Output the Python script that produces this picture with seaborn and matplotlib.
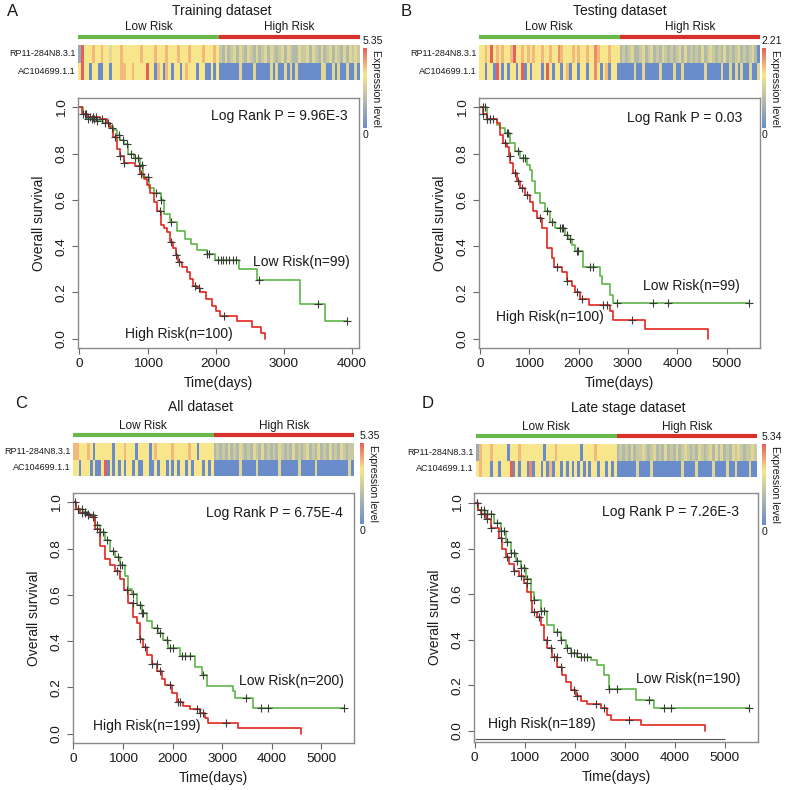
import numpy as np
import matplotlib
matplotlib.use('Agg')
import matplotlib.pyplot as plt
import seaborn as sns
from matplotlib.colors import LinearSegmentedColormap

sns.set_style('ticks')
plt.rcParams['font.family'] = ['Liberation Sans', 'DejaVu Sans']

W, H = 787, 790

# --- DATA ---
GENES = ['RP11-284N8.3.1', 'AC104699.1.1']
TITLES = ['Training dataset', 'Testing dataset', 'All dataset', 'Late stage dataset']
LETTERS = ['A', 'B', 'C', 'D']
PVALS = ['9.96E-3', '0.03', '6.75E-4', '7.26E-3']
N_LOW = [99, 99, 200, 190]
N_HIGH = [100, 100, 199, 189]
EXPR_MAX = [5.35, 2.21, 5.35, 5.34]
XTICK_MAX = [4000, 5000, 5000, 5000]

# expression heatmap, one digit per column (0 = low ... 9 = high), read by eye
A_RP11_LOW = "2966676676" "6566676666" "6676666766" "6766676667" "6666766676"
A_RP11_HIGH = "4353453543" "5435345354" "3453543354" "4535435345" "3543535454"
A_AC_LOW = "6966066006" "6066677667" "6666966076" "0760660676" "6606600606"
A_AC_HIGH = "0000000500" "0050000050" "5005050500" "0000005500" "5050050050"

B_RP11_LOW = "6676967676" "6796676767" "6676676687" "6667676676" "6876667666"
B_RP11_HIGH = "3434533453" "4534354343" "4535343435" "3454343534" "3453434530"
B_AC_LOW = "6606609606" "0660690606" "6606960660" "6706606606" "6860670660"
B_AC_HIGH = "0000050050" "0000500005" "0050000000" "5000005005" "0505005005"

C_RP11_LOW = "7766676066" "6666066676" "6606666067" "6666676666" "6766066666"
C_RP11_HIGH = "3434353435" "4343543534" "3435434353" "4345343534" "3534354344"
C_AC_LOW = "6606660600" "6906060606" "6060066006" "0660606066" "0606660606"
C_AC_HIGH = "0000000005" "0000050000" "0005000000" "5000005000" "0000000050"

D_RP11_LOW = "2766676666" "6066676666" "6666066676" "6666666066" "6676666666"
D_RP11_HIGH = "3434353445" "4345343534" "3534543435" "4345353534" "3545434454"
D_AC_LOW = "6766606606" "6690606608" "0660607066" "0606060606" "0660660606"
D_AC_HIGH = "0000000500" "0050000000" "0005000050" "0000500005" "0050000500"

# Kaplan-Meier step points (days, survival) and censored times
A_HIGH_T = [0, 40, 120, 300, 400, 450, 500, 550, 600, 650, 820, 890, 950, 990, 1040, 1090, 1140, 1190, 1240, 1285,
            1330, 1380, 1420, 1450, 1500, 1575, 1620, 1670, 1720, 1770, 1850, 1940, 2000, 2060, 2315, 2525, 2670, 2720]
A_HIGH_S = [1.0, 0.97, 0.96, 0.95, 0.93, 0.91, 0.87, 0.82, 0.79, 0.76, 0.745, 0.71, 0.69, 0.665, 0.63, 0.59, 0.55, 0.49, 0.48, 0.46,
            0.42, 0.39, 0.36, 0.33, 0.31, 0.29, 0.26, 0.23, 0.22, 0.20, 0.17, 0.14, 0.12, 0.10, 0.075, 0.05, 0.025, 0.0]
A_HIGH_C = [60, 100, 150, 200, 250, 330, 480, 520, 600, 650, 870, 900, 1180, 1340, 1420, 1460, 1700, 1750, 2120]
A_LOW_T = [0, 50, 100, 250, 350, 450, 500, 550, 600, 650, 720, 800, 890, 940, 1015, 1090, 1190, 1235, 1330, 1430,
           1550, 1640, 1720, 1870, 1990, 2340, 2610, 3235, 3600]
A_LOW_S = [1.0, 0.97, 0.95, 0.94, 0.93, 0.92, 0.90, 0.88, 0.86, 0.84, 0.80, 0.78, 0.75, 0.70, 0.65, 0.63, 0.60, 0.54, 0.505, 0.465,
           0.43, 0.41, 0.385, 0.365, 0.34, 0.30, 0.255, 0.15, 0.075]
A_LOW_C = [80, 130, 180, 220, 260, 380, 420, 580, 640, 700, 760, 820, 860, 920, 1000, 1130, 1200, 1340, 1870, 1900,
           2030, 2070, 2110, 2150, 2200, 2250, 2300, 2640, 3500, 3930]

B_HIGH_T = [0, 60, 135, 340, 405, 475, 540, 580, 610, 675, 745, 810, 910, 1010, 1080, 1150, 1250, 1350, 1450, 1500,
            1660, 1755, 1860, 1930, 2030, 2200, 2635, 2700, 3345, 4630]
B_HIGH_S = [1.0, 0.97, 0.95, 0.93, 0.88, 0.845, 0.83, 0.79, 0.76, 0.715, 0.68, 0.65, 0.62, 0.59, 0.55, 0.52, 0.48, 0.39, 0.35, 0.31,
            0.29, 0.25, 0.23, 0.20, 0.17, 0.145, 0.12, 0.083, 0.04, 0.0]
B_HIGH_C = [68, 135, 203, 270, 507, 608, 709, 777, 845, 946, 1216, 1554, 1757, 1959, 2061, 2500, 2581, 3074]
B_LOW_T = [0, 135, 340, 405, 510, 610, 710, 810, 945, 1010, 1045, 1115, 1215, 1320, 1420, 1520, 1725, 1790, 1860, 1925,
           2095, 2430, 2465, 2635, 2690]
B_LOW_S = [1.0, 0.95, 0.925, 0.91, 0.89, 0.845, 0.81, 0.78, 0.75, 0.73, 0.68, 0.63, 0.585, 0.55, 0.505, 0.48, 0.45, 0.43, 0.405, 0.38,
           0.31, 0.27, 0.235, 0.19, 0.155]
B_LOW_C = [60, 100, 140, 200, 540, 574, 777, 878, 912, 1351, 1453, 1622, 1655, 1689, 1757, 1824, 1959, 1993, 2230, 2297,
           2770, 3514, 3818, 5453]

C_HIGH_T = [0, 60, 135, 270, 335, 435, 535, 640, 740, 840, 940, 1020, 1105, 1210, 1275, 1340, 1410, 1475, 1575, 1680,
            1780, 1845, 1980, 2080, 2215, 2350, 2550, 2650, 2720, 3320, 4600]
C_HIGH_S = [1.0, 0.97, 0.955, 0.95, 0.935, 0.885, 0.81, 0.755, 0.73, 0.705, 0.67, 0.62, 0.565, 0.505, 0.477, 0.41, 0.375, 0.34, 0.30, 0.27,
            0.235, 0.21, 0.175, 0.135, 0.12, 0.105, 0.09, 0.07, 0.047, 0.026, 0.0]
C_HIGH_C = [100, 168, 235, 302, 403, 470, 872, 1074, 1208, 1342, 1443, 1577, 1678, 1745, 1946, 2114, 2148, 2483, 2550, 2617, 3087]
C_LOW_T = [0, 60, 200, 300, 435, 535, 640, 740, 840, 940, 1040, 1105, 1175, 1275, 1375, 1475, 1575, 1710, 1810, 1910,
           2150, 2450, 2585, 2685, 3220, 3260, 3625]
C_LOW_S = [1.0, 0.97, 0.96, 0.945, 0.90, 0.87, 0.835, 0.79, 0.765, 0.73, 0.68, 0.625, 0.605, 0.555, 0.52, 0.485, 0.455, 0.435, 0.405, 0.37,
           0.335, 0.29, 0.255, 0.205, 0.185, 0.155, 0.11]
C_LOW_C = [34, 100, 168, 235, 302, 403, 470, 537, 604, 671, 805, 906, 940, 973, 1208, 1342, 1376, 1409, 1678, 1745,
           1879, 1946, 2013, 2181, 2248, 2349, 2617, 3490, 3792, 3926, 5456]

D_HIGH_T = [0, 60, 120, 220, 320, 485, 555, 620, 685, 785, 885, 985, 1055, 1120, 1155, 1255, 1320, 1385, 1455, 1555, 1655,
            1755, 1820, 1920, 2020, 2120, 2255, 2520, 2655, 2720, 3320, 4600]
D_HIGH_S = [1.0, 0.97, 0.95, 0.93, 0.89, 0.846, 0.80, 0.765, 0.73, 0.70, 0.68, 0.65, 0.61, 0.57, 0.52, 0.50, 0.465, 0.40, 0.365, 0.325, 0.28,
            0.245, 0.215, 0.18, 0.15, 0.13, 0.115, 0.10, 0.07, 0.048, 0.023, 0.0]
D_HIGH_C = [53, 120, 187, 253, 320, 520, 653, 787, 920, 1053, 1187, 1287, 1453, 1520, 1587, 1653, 1720, 1987, 2053, 2420, 2587, 3087]
D_LOW_T = [0, 60, 200, 385, 520, 620, 720, 820, 920, 1020, 1120, 1185, 1320, 1455, 1585, 1720, 1820, 1920, 2055, 2320,
           2450, 2590, 2685, 3220, 3590]
D_LOW_S = [1.0, 0.97, 0.95, 0.91, 0.875, 0.83, 0.78, 0.745, 0.715, 0.665, 0.61, 0.575, 0.525, 0.465, 0.435, 0.40, 0.365, 0.34, 0.325, 0.31,
           0.29, 0.245, 0.185, 0.135, 0.10]
D_LOW_C = [53, 120, 187, 253, 320, 453, 520, 587, 653, 720, 787, 853, 920, 987, 1053, 1187, 1320, 1387, 1653, 1720,
           1853, 1920, 1987, 2053, 2120, 2187, 2253, 2687, 2853, 3487, 3787, 3920, 5487]

# --- LAYOUT (pixel boxes: left, top, right, bottom) ---
KM_BOX = [(78, 98, 359, 348), (479, 98, 760, 348), (73, 493, 354, 743), (474, 493, 758, 742)]
HM_BOX = [(78, 45, 360, 80), (479, 45, 760, 80), (73, 443, 354, 476), (476, 444, 757, 477)]
CB_BOX = [(363, 48, 367, 128), (762, 48, 766, 128), (360, 443, 364, 524), (762, 444, 766, 525)]
XLIM = [(-20, 4100), (-20, 5675), (-10, 5660), (-10, 5670)]
YLIM = [(-0.04, 1.04), (-0.04, 1.04), (-0.04, 1.04), (-0.05, 1.044)]
TITLE_POS = [(222, 11), (620, 11), (200, 407), (628, 408)]
LETTER_POS = [(13, 11), (406, 11), (21, 403), (428, 404)]
PVAL_POS = [(0.96, 0.928), (0.936, 0.92), (0.961, 0.92), (0.933, 0.924)]
LOWTXT_POS = [(0.968, 0.344), (0.929, 0.248), (0.964, 0.248), (0.937, 0.253)]
HIGHTXT_POS = [(0.55, 0.056), (0.445, 0.124), (0.452, 0.068), (0.43, 0.072)]

GREEN, RED = '#5db548', '#e3261d'
BAR_GREEN, BAR_RED = '#6ab84a', '#d8302b'
TXT = '#1a1a1a'
cmap = LinearSegmentedColormap.from_list(
    'expr', [(0.0, '#6a8ccb'), (0.67, '#f8e68b'), (1.0, '#e3605c')])


def px(box):
    x0, y0, x1, y1 = box
    return [x0 / W, 1 - y1 / H, (x1 - x0) / W, (y1 - y0) / H]


def build_heat(low1, high1, low2, high2):
    r1 = [int(c) for c in low1 + high1]
    r2 = [int(c) for c in low2 + high2]
    n = min(len(r1), len(r2))
    return np.array([r1[:n], r2[:n]], dtype=float), len(low1)


def draw_km(ax, t, s, cens, color):
    t = np.array(t, float)
    s = np.array(s, float)
    c = np.array(cens, float)
    end = max(t[-1], c.max())
    tx = np.append(t, end)
    sy = np.append(s, s[-1])
    sns.lineplot(x=tx, y=sy, drawstyle='steps-post', color=color, linewidth=1.2,
                 ax=ax, estimator=None, sort=False)
    cy = s[np.searchsorted(t, c, side='right') - 1]
    sns.scatterplot(x=c, y=cy, marker='+', color='#3a3a3a', s=26, linewidth=0.8,
                    ax=ax, zorder=3)


heats = [
    build_heat(A_RP11_LOW, A_RP11_HIGH, A_AC_LOW, A_AC_HIGH),
    build_heat(B_RP11_LOW, B_RP11_HIGH, B_AC_LOW, B_AC_HIGH),
    build_heat(C_RP11_LOW, C_RP11_HIGH, C_AC_LOW, C_AC_HIGH),
    build_heat(D_RP11_LOW, D_RP11_HIGH, D_AC_LOW, D_AC_HIGH),
]
curves = [
    (A_LOW_T, A_LOW_S, A_LOW_C, A_HIGH_T, A_HIGH_S, A_HIGH_C),
    (B_LOW_T, B_LOW_S, B_LOW_C, B_HIGH_T, B_HIGH_S, B_HIGH_C),
    (C_LOW_T, C_LOW_S, C_LOW_C, C_HIGH_T, C_HIGH_S, C_HIGH_C),
    (D_LOW_T, D_LOW_S, D_LOW_C, D_HIGH_T, D_HIGH_S, D_HIGH_C),
]

fig = plt.figure(figsize=(W / 100, H / 100), dpi=100)

for i in range(4):
    # heatmap strip
    hax = fig.add_axes(px(HM_BOX[i]))
    cax = fig.add_axes(px(CB_BOX[i]))
    mat, n_low_cols = heats[i]
    ncol = mat.shape[1]
    sns.heatmap(mat / 9 * EXPR_MAX[i], ax=hax, cmap=cmap, vmin=0, vmax=EXPR_MAX[i],
                cbar_ax=cax, xticklabels=False, yticklabels=GENES)
    hax.tick_params(axis='y', length=0, pad=2, labelsize=6.5, labelrotation=0,
                    labelcolor=TXT)
    hax.tick_params(axis='x', length=0)
    hax.plot([0, n_low_cols], [-0.46, -0.46], color=BAR_GREEN, lw=3,
             clip_on=False, solid_capstyle='butt')
    hax.plot([n_low_cols, ncol], [-0.46, -0.46], color=BAR_RED, lw=3,
             clip_on=False, solid_capstyle='butt')
    hax.text(n_low_cols / 2, -1.05, 'Low Risk', ha='center', va='center',
             fontsize=8.5, color=TXT)
    hax.text((n_low_cols + ncol) / 2, -1.05, 'High Risk', ha='center', va='center',
             fontsize=8.5, color=TXT)

    cb = hax.collections[0].colorbar
    cb.outline.set_visible(False)
    cax.set_yticks([])
    cax.text(0, 1.02, f'{EXPR_MAX[i]:.2f}', transform=cax.transAxes, ha='left',
             va='bottom', fontsize=7.6, color=TXT)
    cax.text(0, -0.03, '0', transform=cax.transAxes, ha='left', va='top',
             fontsize=7.6, color=TXT)
    cx0, cy0, cx1, cy1 = CB_BOX[i]
    fig.text((cx1 + 9) / W, 1 - (cy0 + cy1) / 2 / H, 'Expression level', rotation=270,
             ha='center', va='center', fontsize=7.6, color=TXT)

    fig.text(TITLE_POS[i][0] / W, 1 - TITLE_POS[i][1] / H, TITLES[i], ha='center',
             va='center', fontsize=10, color=TXT)
    fig.text(LETTER_POS[i][0] / W, 1 - LETTER_POS[i][1] / H, LETTERS[i], ha='center',
             va='center', fontsize=12, color=TXT)

    # survival curves
    ax = fig.add_axes(px(KM_BOX[i]))
    lt, ls, lc, ht, hs, hc = curves[i]
    draw_km(ax, lt, ls, lc, GREEN)
    draw_km(ax, ht, hs, hc, RED)
    ax.set_xlim(XLIM[i])
    ax.set_ylim(YLIM[i])
    yt = np.round(np.arange(0, 1.01, 0.2), 1)
    ax.set_yticks(yt)
    ax.set_yticklabels([f'{v:.1f}' for v in yt])
    ax.set_xticks(np.arange(0, XTICK_MAX[i] + 1, 1000))
    ax.tick_params(axis='y', labelrotation=90)
    for lab in ax.get_yticklabels():
        lab.set_va('center')
    ax.tick_params(length=4, width=0.8, color='#666666', labelsize=9.7, labelcolor=TXT)
    for sp in ax.spines.values():
        sp.set_color('#8a8a8a')
        sp.set_linewidth(1)
    ax.set_xlabel('Time(days)', fontsize=10, color=TXT)
    ax.set_ylabel('Overall survival', fontsize=10, color=TXT, labelpad=7)

    ax.text(*PVAL_POS[i], f'Log Rank P = {PVALS[i]}', transform=ax.transAxes,
            ha='right', va='center', fontsize=10, color=TXT)
    ax.text(*LOWTXT_POS[i], f'Low Risk(n={N_LOW[i]})', transform=ax.transAxes,
            ha='right', va='center', fontsize=10, color=TXT)
    ax.text(*HIGHTXT_POS[i], f'High Risk(n={N_HIGH[i]})', transform=ax.transAxes,
            ha='right', va='center', fontsize=10, color=TXT)

    if i == 3:
        # the separate x-axis line under the box in panel D
        ax.hlines(-0.039, 0, XTICK_MAX[i], color='#555555', lw=0.8, clip_on=False)

fig.savefig('out.png', dpi=100)
